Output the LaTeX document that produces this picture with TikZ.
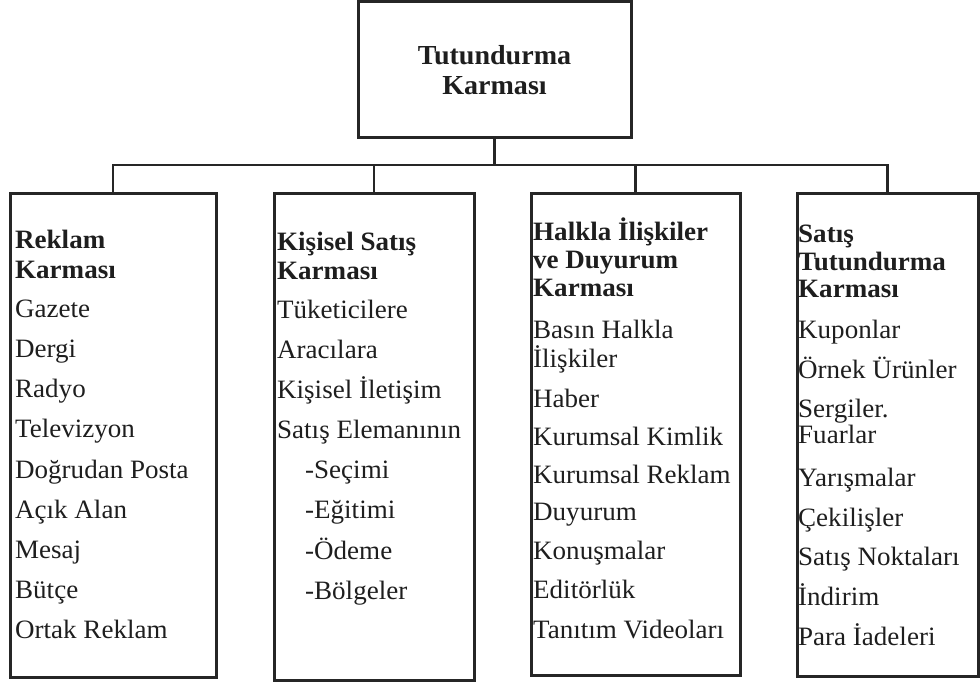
\documentclass[tikz,border=0pt]{standalone}
\usepackage{fontspec}
\setmainfont{Liberation Serif}[FakeStretch=1.02]
\definecolor{ink}{HTML}{1E1E1E}
\definecolor{linec}{HTML}{262626}
\begin{document}
\begin{tikzpicture}[x=1pt,y=-1pt,
  frame/.style={draw=linec, line width=3pt, inner sep=0pt},
  link/.style={draw=linec, line width=2.6pt},
  item/.style={anchor=base west, inner sep=0pt, text=ink,
    font=\fontsize{26.5}{30}\selectfont},
  head/.style={item, font=\fontsize{26.5}{30}\selectfont\bfseries}]
\useasboundingbox (0,0) rectangle (980,682);

% root box
\node[frame, minimum width=273pt, minimum height=136pt, align=center,
  text=ink, font=\fontsize{27.5}{30}\selectfont\bfseries] (top) at (494.5,70)
  {Tutundurma\\Karması};

% four branch boxes
\node[frame, minimum width=206pt, minimum height=484pt] (b1) at (113,435) {};
\node[frame, minimum width=200pt, minimum height=487pt] (b2) at (374,436.5) {};
\node[frame, minimum width=209pt, minimum height=482pt] (b3) at (635.5,434) {};
\node[frame, minimum width=181pt, minimum height=483pt] (b4) at (887.5,434.5) {};

% connectors
\coordinate (bar) at (494.5,165);
\draw[link] (top.south) -- (bar);
\draw[link] (b1.north) -- (b1.north |- bar) -- (b4.north |- bar) -- (b4.north);
\draw[link] (b2.north) -- (b2.north |- bar);
\draw[link] (b3.north) -- (b3.north |- bar);

% headings
\node[head] (h1a) at (15,248) {Reklam};
\node[head] (h1b) at (15,278) {Karması};
\node[head] (h2a) at (277,250) {Kişisel Satış};
\node[head] (h2b) at (277,279) {Karması};
\node[head] (h3a) at (533,240) {Halkla İlişkiler};
\node[head] (h3b) at (533,268) {ve Duyurum};
\node[head] (h3c) at (533,296) {Karması};
\node[head] (h4a) at (798,242) {Satış};
\node[head] (h4b) at (798,270) {Tutundurma};
\node[head] (h4c) at (798,297) {Karması};

% items of each box
\foreach \yy/\txt [count=\i] in {317/Gazete, 357/Dergi, 397/Radyo,
  437/Televizyon, 478/Doğrudan Posta, 518/Açık Alan, 558/Mesaj,
  598/Bütçe, 638/Ortak Reklam}
  \node[item, name=ra\i] at (15,\yy) {\txt};

\foreach \xx/\yy/\txt [count=\i] in {277/318/Tüketicilere, 277/358/Aracılara,
  277/398/Kişisel İletişim, 277/438/Satış Elemanının, 305/478/-Seçimi,
  305/518/-Eğitimi, 305/559/-Ödeme, 305/599/-Bölgeler}
  \node[item, name=rb\i] at (\xx,\yy) {\txt};

\foreach \yy/\txt [count=\i] in {338/Basın Halkla, 367/İlişkiler, 407/Haber,
  445/Kurumsal Kimlik, 483/Kurumsal Reklam, 520/Duyurum, 559/Konuşmalar,
  598/Editörlük, 638/Tanıtım Videoları}
  \node[item, name=rc\i] at (533,\yy) {\txt};

\foreach \yy/\txt [count=\i] in {338/Kuponlar, 378/Örnek Ürünler,
  417/Sergiler., 443/Fuarlar, 486/Yarışmalar, 526/Çekilişler,
  565/Satış Noktaları, 605/İndirim, 645/Para İadeleri}
  \node[item, name=rd\i] at (798,\yy) {\txt};
\end{tikzpicture}
\end{document}
